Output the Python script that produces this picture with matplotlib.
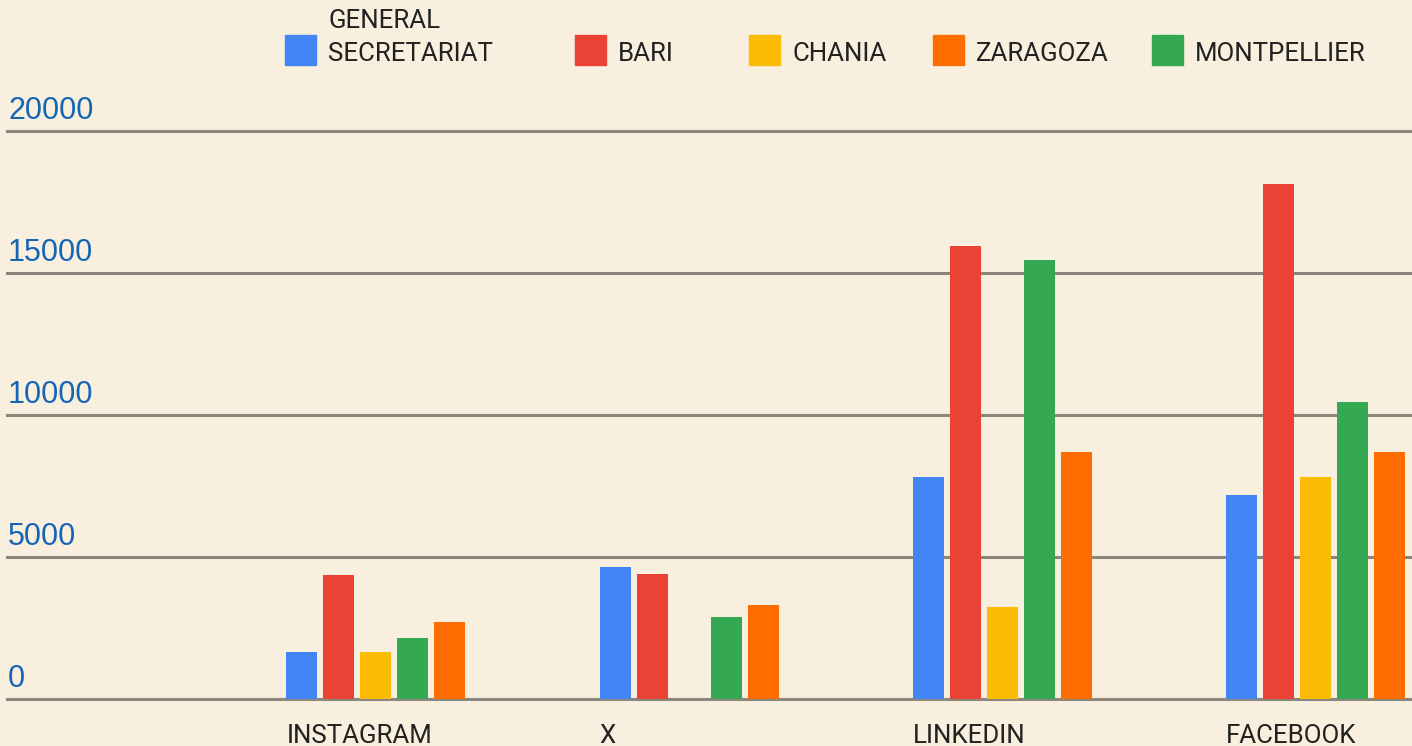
import numpy as np
import matplotlib.pyplot as plt
import matplotlib.transforms as mtransforms
from matplotlib.patches import Rectangle

# Daten
platforms = ["INSTAGRAM", "X", "LINKEDIN", "FACEBOOK"]
series_names = ["GENERAL\nSECRETARIAT", "BARI", "CHANIA", "ZARAGOZA", "MONTPELLIER"]
general_secretariat = [1650, 4650, 7800, 7200]
bari = [4350, 4400, 15950, 18150]
chania = [1650, 0, 3250, 7800]
zaragoza = [2700, 3300, 8700, 8700]
montpellier = [2150, 2900, 15450, 10450]
y_ticks = [0, 5000, 10000, 15000, 20000]

farben = {"GENERAL\nSECRETARIAT": "#4285F4", "BARI": "#EA4335", "CHANIA": "#FBBC04",
          "ZARAGOZA": "#FF6D01", "MONTPELLIER": "#34A853"}
werte = {"GENERAL\nSECRETARIAT": general_secretariat, "BARI": bari, "CHANIA": chania,
         "ZARAGOZA": zaragoza, "MONTPELLIER": montpellier}
# Reihenfolge der Balken innerhalb einer Gruppe
balken_reihenfolge = ["GENERAL\nSECRETARIAT", "BARI", "CHANIA", "MONTPELLIER", "ZARAGOZA"]

bg = "#f8efde"
W, H = 1412, 746
fig = plt.figure(figsize=(W/100, H/100), dpi=100, facecolor=bg)
ax = fig.add_axes([7/W, 1 - 699/H, 1 - 7/W, (699 - 131)/H])
ax.set_facecolor(bg)

x = np.arange(len(platforms))
step = 37/313.3
breite = 31/313.3
for j, name in enumerate(balken_reihenfolge):
    ax.bar(x + (j - 2)*step + 0.004, werte[name], width=breite, color=farben[name], zorder=3)

ax.set_xlim(-1.173, 3.311)
ax.set_ylim(0, 20000)
ax.set_yticks(y_ticks)
ax.set_yticklabels([])
ax.yaxis.grid(True, color="#8c877d", linewidth=2.2, zorder=1)
for l in ax.get_ygridlines():
    l.set_clip_on(False)
ax.tick_params(axis="both", length=0)
for s in ax.spines.values():
    s.set_visible(False)

# y-Beschriftung oberhalb der Gitterlinien
trans = mtransforms.offset_copy(ax.get_yaxis_transform(), fig=fig, x=1, y=12, units="dots")
for t in y_ticks:
    ax.text(0, t, str(t), transform=trans, ha="left", va="baseline",
            fontsize=22, color="#1565b5", family="Liberation Sans")

# Kategorien linksbündig am Gruppenanfang
ax.set_xticks(x - 2*step - breite/2 + 0.004)
ax.set_xticklabels(platforms, ha="left", fontsize=18.6, color="#222222", family="Roboto")
ax.tick_params(axis="x", pad=18)

# Legende von Hand
leg_x = [285, 575, 749, 933, 1152]
for name, lx in zip(series_names, leg_x):
    fig.patches.append(Rectangle((lx/W, 1 - 65/H), 31/W, 30/H, transform=fig.transFigure,
                                 color=farben[name], figure=fig))
    fig.text((lx + 43)/W, 1 - 61/H, name, ha="left", va="baseline", fontsize=18.6,
             color="#222222", family="Roboto", linespacing=1.45)

fig.savefig("out.png", dpi=100, facecolor=bg)
